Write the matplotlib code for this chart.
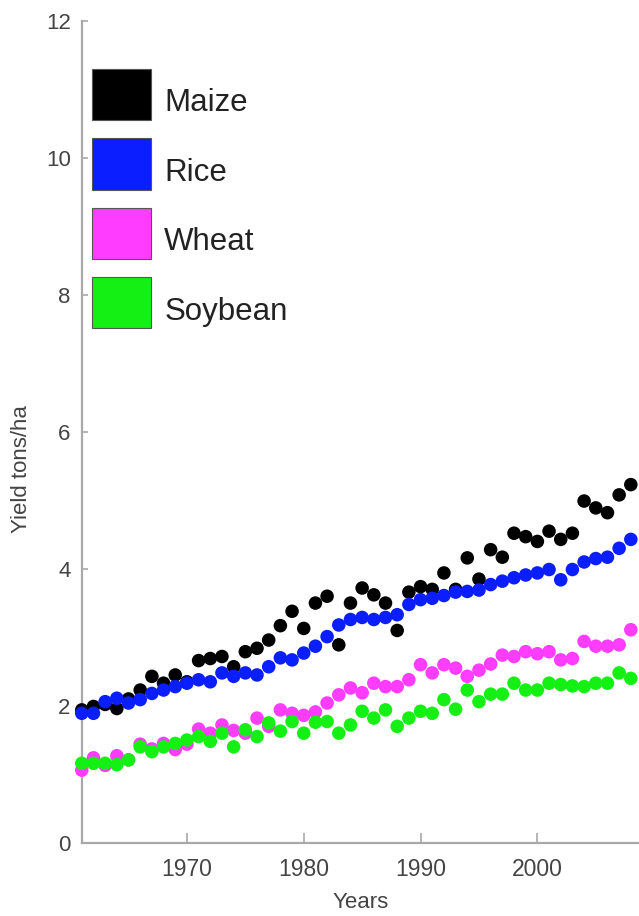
#!/usr/bin/env python3
"""World crop yields 1961-2008, scatter of tons/ha per year."""

import matplotlib
matplotlib.use("Agg")
import matplotlib.pyplot as plt
from matplotlib.patches import Patch

years = list(range(1961, 2009))

maize = [1.94, 1.99, 2.02, 1.96, 2.10, 2.23, 2.43, 2.33, 2.45, 2.35,
         2.66, 2.69, 2.72, 2.57, 2.79, 2.84, 2.96, 3.17, 3.38, 3.13,
         3.50, 3.60, 2.89, 3.50, 3.72, 3.62, 3.50, 3.10, 3.66, 3.74,
         3.70, 3.94, 3.70, 4.16, 3.85, 4.28, 4.17, 4.52, 4.47, 4.40,
         4.55, 4.43, 4.52, 4.99, 4.89, 4.82, 5.08, 5.23]
rice = [1.89, 1.89, 2.06, 2.11, 2.04, 2.09, 2.18, 2.23, 2.28, 2.33,
        2.38, 2.35, 2.48, 2.43, 2.48, 2.45, 2.57, 2.70, 2.67, 2.77,
        2.87, 3.01, 3.18, 3.26, 3.29, 3.26, 3.29, 3.33, 3.48, 3.55,
        3.57, 3.61, 3.66, 3.67, 3.69, 3.77, 3.82, 3.87, 3.91, 3.94,
        3.99, 3.84, 3.99, 4.10, 4.15, 4.17, 4.30, 4.43]
wheat = [1.06, 1.24, 1.13, 1.27, 1.21, 1.44, 1.37, 1.45, 1.36, 1.44,
         1.66, 1.60, 1.72, 1.64, 1.60, 1.82, 1.70, 1.94, 1.89, 1.86,
         1.91, 2.04, 2.16, 2.26, 2.19, 2.33, 2.28, 2.28, 2.38, 2.60,
         2.48, 2.60, 2.55, 2.43, 2.52, 2.61, 2.74, 2.72, 2.79, 2.76,
         2.79, 2.67, 2.69, 2.94, 2.87, 2.87, 2.89, 3.11]
soybean = [1.16, 1.16, 1.16, 1.14, 1.21, 1.40, 1.33, 1.40, 1.45, 1.50,
           1.55, 1.48, 1.60, 1.40, 1.65, 1.55, 1.75, 1.63, 1.77, 1.60,
           1.76, 1.77, 1.60, 1.72, 1.92, 1.82, 1.94, 1.70, 1.82, 1.92,
           1.89, 2.09, 1.95, 2.23, 2.06, 2.17, 2.17, 2.33, 2.23, 2.23,
           2.33, 2.31, 2.29, 2.28, 2.33, 2.33, 2.48, 2.40]

crops = ["Maize", "Rice", "Wheat", "Soybean"]
colors = ["#000000", "#0a1eff", "#ff3cff", "#14f014"]

x_ticks = [1970, 1980, 1990, 2000]
y_ticks = [0, 2, 4, 6, 8, 10, 12]

plt.rcParams["font.family"] = ["Liberation Sans", "DejaVu Sans"]

fig = plt.figure(figsize=(6.39, 9.16), dpi=100)
ax = fig.add_axes([0.128, 0.080, 0.872, 0.897])

for name, vals, col in zip(crops, [maize, rice, wheat, soybean], colors):
    ax.scatter(years, vals, s=95, color=col, edgecolors="none",
               clip_on=False, zorder=3, label=name)

ax.set_xlim(1961, 2008.7)
ax.set_ylim(0, 12)
ax.set_xticks(x_ticks)
ax.set_yticks(y_ticks)

for side in ("top", "right"):
    ax.spines[side].set_visible(False)
for side in ("left", "bottom"):
    ax.spines[side].set_color("#a8a8a8")
    ax.spines[side].set_linewidth(1.6)

ax.tick_params(axis="x", direction="in", length=7, width=1.2,
               color="#a8a8a8", labelsize=16.5, labelcolor="#444444", pad=11)
ax.tick_params(axis="y", direction="in", length=4, width=1.2,
               color="#a8a8a8", labelsize=16, labelcolor="#444444", pad=8)

ax.set_xlabel("Years", fontsize=16, color="#444444", labelpad=8)
ax.set_ylabel("Yield tons/ha", fontsize=16, color="#444444")
ax.yaxis.set_label_coords(-0.090, 0.455)

handles = [Patch(facecolor=c, edgecolor="#555555", linewidth=0.8) for c in colors]
leg = ax.legend(handles, crops, loc="upper left", bbox_to_anchor=(0.018, 0.942),
                frameon=False, fontsize=22.5, handlelength=1.9, handleheight=2.15,
                handletextpad=0.42, labelspacing=0.58, borderpad=0,
                borderaxespad=0, labelcolor="#222222")
for t in leg.get_texts():
    t.set_y(-7)

fig.savefig("out.png", dpi=100)
